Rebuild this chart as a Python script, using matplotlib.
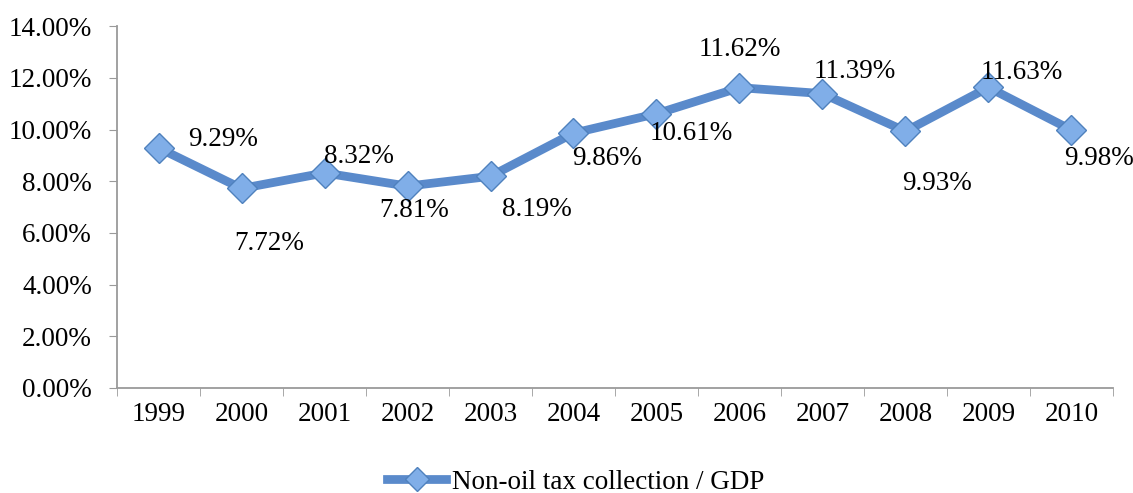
import matplotlib.pyplot as plt
from matplotlib.lines import Line2D

years = ['1999', '2000', '2001', '2002', '2003', '2004',
         '2005', '2006', '2007', '2008', '2009', '2010']
ratio = [9.29, 7.72, 8.32, 7.81, 8.19, 9.86,
         10.61, 11.62, 11.39, 9.93, 11.63, 9.98]
series_name = 'Non-oil tax collection / GDP'

# label offsets in pixels (dx, dy)
offsets = [(65, 8), (28, -55), (34, 16), (7, -24), (46, -33), (34, -25),
           (35, -20), (0, 38), (32, 22), (32, -52), (33, 15), (28, -28)]

line_col = '#5A8ACB'
plt.rcParams['font.family'] = ['Liberation Serif', 'DejaVu Serif']
fig = plt.figure(figsize=(11.33, 4.93), dpi=100)
ax = fig.add_axes([0.1033, 0.213, 0.879, 0.734])

x = list(range(len(years)))
ax.plot(x, ratio, color=line_col, lw=6.3, marker='D', ms=15.5,
        mfc='#80AEE8', mec='#4F81BD', mew=1.0, solid_capstyle='round')

for xi, v, (dx, dy) in zip(x, ratio, offsets):
    ax.annotate(f'{v:.2f}%', (xi, v), xytext=(dx, dy), textcoords='offset pixels',
                ha='center', va='center', fontsize=19.5, color='black')

ax.set_xlim(-0.5, len(years) - 0.5)
ax.set_ylim(0, 14)
ax.set_yticks(range(0, 15, 2))
ax.set_yticklabels([f'{t:.2f}%' for t in range(0, 15, 2)])
ax.set_xticks(x)
ax.set_xticklabels(years)
ax.set_xticks([i + 0.5 for i in range(-1, len(years))], minor=True)

ax.tick_params(axis='y', labelsize=19.5, length=6, color='#9A9A9A', pad=12)
ax.tick_params(axis='x', which='major', labelsize=19.5, length=0, pad=10)
ax.tick_params(axis='x', which='minor', length=6, color='#9A9A9A')

for s in ['top', 'right']:
    ax.spines[s].set_visible(False)
for s in ['left', 'bottom']:
    ax.spines[s].set_color('#9A9A9A')
    ax.spines[s].set_linewidth(1.3)

handle = Line2D([], [], color=line_col, lw=6.3, marker='D', ms=12,
                mfc='#80AEE8', mec='#4F81BD')
fig.legend([handle], [series_name], loc='center', bbox_to_anchor=(0.508, 0.022),
           frameon=False, fontsize=19.5, handlelength=2.2, handletextpad=0.2)

fig.savefig('out.png', dpi=100)
